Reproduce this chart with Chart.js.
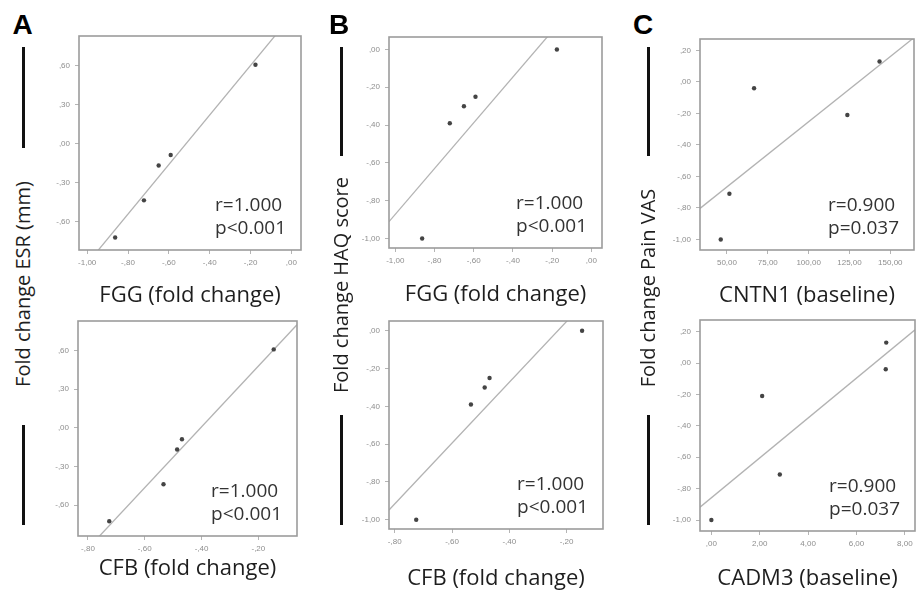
<!DOCTYPE html>
<html><head><meta charset="utf-8">
<script src="https://cdn.jsdelivr.net/npm/chart.js@4.4.1/dist/chart.umd.min.js"></script>
<style>
html,body{margin:0;padding:0;background:#fff;}
body{width:921px;height:591px;position:relative;overflow:hidden;font-family:"Open Sans",sans-serif;}
canvas.cv{position:absolute;}
.letter{position:absolute;font:bold 28px "Liberation Sans",Arial,sans-serif;color:#000;line-height:1;transform:translate(-50%,-50%);}
.ytitle{position:absolute;font:20px "Open Sans",sans-serif;color:#1e1e1e;white-space:nowrap;line-height:1;transform:translate(-50%,-50%) rotate(-90deg);}
.bar{position:absolute;width:3px;background:#111;}
</style>
</head><body>
<script>
// ---- data ----
const fggFold   = [-0.176, -0.591, -0.650, -0.722, -0.863];
const cfbFold   = [-0.146, -0.469, -0.486, -0.534, -0.725];
const esrFold   = [0.608, -0.088, -0.168, -0.437, -0.724];
const haqFold   = [0.00, -0.25, -0.30, -0.39, -1.00];
const cntn1Base = [143.4, 66.6, 123.7, 51.5, 46.2];
const cadm3Base = [7.23, 7.21, 2.10, 2.83, 0.00];
const painFold  = [0.13, -0.04, -0.21, -0.71, -1.00];

// ---- tick values ----
const fggTicks   = [-1.0, -0.8, -0.6, -0.4, -0.2, 0.0];
const cfbTicks   = [-0.8, -0.6, -0.4, -0.2];
const esrTicks   = [-0.6, -0.3, 0.0, 0.3, 0.6];
const haqTicks   = [-1.0, -0.8, -0.6, -0.4, -0.2, 0.0];
const cntn1Ticks = [50, 75, 100, 125, 150];
const cadm3Ticks = [0, 2, 4, 6, 8];
const painTicks  = [-1.0, -0.8, -0.6, -0.4, -0.2, 0.0, 0.2];

// ---- texts ----
const panelLetters = ['A', 'B', 'C'];
const yTitles = ['Fold change ESR (mm)', 'Fold change HAQ score', 'Fold change Pain VAS'];
const xTitles = ['FGG (fold change)', 'CFB (fold change)', 'FGG (fold change)', 'CFB (fold change)', 'CNTN1 (baseline)', 'CADM3 (baseline)'];
const rTexts = ['r=1.000', 'r=1.000', 'r=1.000', 'r=1.000', 'r=0.900', 'r=0.900'];
const pTexts = ['p<0.001', 'p<0.001', 'p<0.001', 'p<0.001', 'p=0.037', 'p=0.037'];

// ---- panel layout (box in page px, axis ranges, title gap) ----
const panels = [
  {xs: fggFold,   ys: esrFold,  xt: fggTicks,   yt: esrTicks,  box:[79,34,303,250],  xr:[-1.04,0.047], yr:[-0.82,0.83],  gap:46},
  {xs: cfbFold,   ys: esrFold,  xt: cfbTicks,   yt: esrTicks,  box:[78,319,299,536], xr:[-0.835,-0.064], yr:[-0.838,0.828], gap:33},
  {xs: fggFold,   ys: haqFold,  xt: fggTicks,   yt: haqTicks,  box:[389,35,604,248], xr:[-1.032,0.054], yr:[-1.05,0.066],  gap:47},
  {xs: cfbFold,   ys: haqFold,  xt: cfbTicks,   yt: haqTicks,  box:[389,319,605,529],xr:[-0.82,-0.073], yr:[-1.049,0.052], gap:50},
  {xs: cntn1Base, ys: painFold, xt: cntn1Ticks, yt: painTicks, box:[700,37,916,250], xr:[33.5,164.5],   yr:[-1.067,0.273], gap:46},
  {xs: cadm3Base, ys: painFold, xt: cadm3Ticks, yt: painTicks, box:[700,318,917,531],xr:[-0.47,8.42],   yr:[-1.07,0.274],  gap:48}
];

function spss(v){
  let s = Math.abs(v).toFixed(2).replace('.', ',');
  if (s.charAt(0) === '0') s = s.slice(1);
  return (v < 0 ? '-' : '') + s;
}
function fit(xs, ys){
  const n = xs.length;
  const mx = xs.reduce((a,b)=>a+b,0)/n, my = ys.reduce((a,b)=>a+b,0)/n;
  let sxy = 0, sxx = 0;
  for (let i=0;i<n;i++){ sxy += (xs[i]-mx)*(ys[i]-my); sxx += (xs[i]-mx)*(xs[i]-mx); }
  const b = sxy/sxx; return {b, a: my - b*mx};
}

const framePlugin = {
  id: 'frame',
  afterDatasetsDraw(chart, args, opts){
    const {ctx, chartArea: a} = chart;
    ctx.save();
    ctx.strokeStyle = '#9c9c9c'; ctx.lineWidth = 1.6;
    ctx.strokeRect(a.left, a.top, a.right - a.left, a.bottom - a.top);
    ctx.font = '19px "Open Sans"'; ctx.fillStyle = '#333';
    ctx.textAlign = 'left'; ctx.textBaseline = 'middle';
    const w = ctx.measureText(opts.p).width;
    const x0 = a.right - 15 - w;
    ctx.fillText(opts.r, x0, a.bottom - 44);
    ctx.fillText(opts.p, x0, a.bottom - 21);
    ctx.restore();
  }
};

const YW = 40, PT = 2, PR = 2, XH = 72, TF = 22, LH = TF * 1.2;
panels.forEach((p, i) => {
  const [l, t, r, b] = p.box;
  const cv = document.createElement('canvas');
  cv.className = 'cv';
  const W = r - l + YW + PR, H = b - t + PT + XH;
  cv.width = W; cv.height = H;
  cv.style.left = (l - YW) + 'px'; cv.style.top = (t - PT) + 'px';
  cv.style.width = W + 'px'; cv.style.height = H + 'px';
  document.body.appendChild(cv);
  const f = fit(p.xs, p.ys);
  const pts = p.xs.map((x, k) => ({x, y: p.ys[k]}));
  const line = [{x: p.xr[0], y: f.a + f.b*p.xr[0]}, {x: p.xr[1], y: f.a + f.b*p.xr[1]}];
  const tickFont = {family: '"Liberation Sans", Arial, sans-serif', size: 8};
  new Chart(cv, {
    type: 'scatter',
    data: {datasets: [
      {data: pts, pointRadius: 2.2, pointBackgroundColor: '#444', pointBorderWidth: 0, order: 1},
      {data: line, showLine: true, borderColor: '#b3b3b3', borderWidth: 1.3, pointRadius: 0, clip: 0, order: 2}
    ]},
    options: {
      responsive: false, animation: false, devicePixelRatio: 1,
      layout: {padding: {top: PT, right: PR, left: 0, bottom: 0}},
      plugins: {legend: {display: false}, tooltip: {enabled: false}, frame: {r: rTexts[i], p: pTexts[i]}},
      scales: {
        x: {
          type: 'linear', min: p.xr[0], max: p.xr[1],
          afterBuildTicks: s => { s.ticks = p.xt.map(v => ({value: v})); },
          afterFit: s => { s.height = XH; s.paddingLeft = 0; s.paddingRight = 0; },
          ticks: {callback: v => spss(v), font: tickFont, color: '#8e8e8e', padding: 4, maxRotation: 0, autoSkip: false},
          grid: {drawOnChartArea: false, drawTicks: true, tickLength: 4, color: '#b5b5b5'},
          border: {display: false},
          title: {display: true, text: xTitles[i], color: '#1e1e1e', font: {family: '"Open Sans"', size: TF, lineHeight: 1.2},
                  padding: {top: 0, bottom: XH - p.gap - LH/2}}
        },
        y: {
          type: 'linear', min: p.yr[0], max: p.yr[1],
          afterBuildTicks: s => { s.ticks = p.yt.map(v => ({value: v})); },
          afterFit: s => { s.width = YW; s.paddingTop = 0; s.paddingBottom = 0; },
          ticks: {callback: v => spss(v), font: tickFont, color: '#8e8e8e', padding: 5, autoSkip: false},
          grid: {drawOnChartArea: false, drawTicks: true, tickLength: 4, color: '#b5b5b5'},
          border: {display: false}
        }
      }
    },
    plugins: [framePlugin]
  });
});

// ---- figure-level decorations: panel letters, shared y titles, bracket bars ----
const letterPos = [[22.5,25],[339,25],[643,25]];
const ytPos = [[23,284],[341,285],[648,288]];
const barTop = [[47,148],[47,156],[47,156]];
const barBot = [[425,525],[415,525],[415,525]];
panelLetters.forEach((L, i) => {
  const d = document.createElement('div'); d.className = 'letter'; d.textContent = L;
  d.style.left = letterPos[i][0] + 'px'; d.style.top = letterPos[i][1] + 'px';
  document.body.appendChild(d);
  const y = document.createElement('div'); y.className = 'ytitle'; y.textContent = yTitles[i];
  y.style.left = ytPos[i][0] + 'px'; y.style.top = ytPos[i][1] + 'px';
  document.body.appendChild(y);
  [barTop[i], barBot[i]].forEach(bb => {
    const s = document.createElement('div'); s.className = 'bar';
    s.style.left = (ytPos[i][0] - 1.5) + 'px'; s.style.top = bb[0] + 'px'; s.style.height = (bb[1] - bb[0]) + 'px';
    document.body.appendChild(s);
  });
});
</script>
</body></html>
